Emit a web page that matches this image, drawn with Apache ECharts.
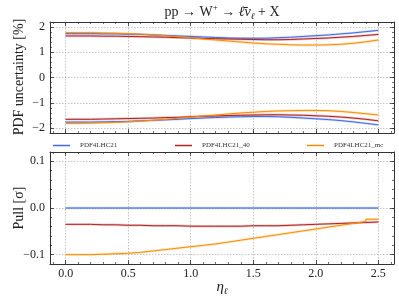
<!DOCTYPE html>
<html><head><meta charset="utf-8">
<script src="https://cdn.jsdelivr.net/npm/echarts@6/dist/echarts.min.js"></script>
<style>html,body{margin:0;padding:0;background:#fff}#c{width:399px;height:299px}</style>
</head><body><div id="c"></div>
<script>
// ---- data ----
const etaEdges = [0.0,0.1,0.2,0.3,0.4,0.5,0.6,0.7,0.8,0.9,1.0,1.1,1.2,1.3,1.4,1.5,1.6,1.7,1.8,1.9,2.0,2.1,2.2,2.3,2.4,2.5];
const seriesNames = ['PDF4LHC21','PDF4LHC21_40','PDF4LHC21_mc'];
// PDF uncertainty [%], upper
const pdf21Up   = [1.73,1.73,1.72,1.72,1.71,1.70,1.68,1.66,1.64,1.62,1.60,1.58,1.56,1.55,1.55,1.55,1.57,1.59,1.62,1.65,1.68,1.72,1.76,1.81,1.86];
const pdf40Up   = [1.64,1.64,1.63,1.63,1.62,1.61,1.60,1.59,1.57,1.56,1.54,1.53,1.52,1.51,1.50,1.49,1.49,1.50,1.52,1.54,1.56,1.59,1.62,1.66,1.70];
const pdfMcUp   = [1.77,1.77,1.76,1.75,1.73,1.71,1.68,1.65,1.61,1.57,1.52,1.48,1.44,1.40,1.36,1.33,1.31,1.29,1.28,1.28,1.29,1.31,1.35,1.41,1.48];
// PDF uncertainty [%], lower
const pdf21Lo   = [-1.76,-1.76,-1.75,-1.74,-1.73,-1.71,-1.69,-1.67,-1.65,-1.62,-1.60,-1.58,-1.56,-1.55,-1.54,-1.54,-1.55,-1.57,-1.60,-1.63,-1.66,-1.70,-1.75,-1.81,-1.87];
const pdf40Lo   = [-1.65,-1.65,-1.64,-1.63,-1.62,-1.61,-1.60,-1.58,-1.57,-1.55,-1.53,-1.52,-1.50,-1.49,-1.48,-1.47,-1.47,-1.48,-1.49,-1.51,-1.53,-1.56,-1.60,-1.65,-1.71];
const pdfMcLo   = [-1.81,-1.80,-1.79,-1.77,-1.75,-1.72,-1.69,-1.65,-1.61,-1.56,-1.52,-1.48,-1.44,-1.40,-1.37,-1.34,-1.32,-1.31,-1.30,-1.30,-1.31,-1.34,-1.38,-1.43,-1.48];
// Pull [sigma]
const pull21    = [0,0,0,0,0,0,0,0,0,0,0,0,0,0,0,0,0,0,0,0,0,0,0,0,0];
const pull40    = [-0.035,-0.035,-0.036,-0.036,-0.037,-0.037,-0.038,-0.038,-0.038,-0.039,-0.039,-0.039,-0.039,-0.039,-0.038,-0.038,-0.038,-0.037,-0.036,-0.035,-0.034,-0.033,-0.032,-0.031,-0.030];
const pullMc    = [-0.100,-0.100,-0.099,-0.098,-0.097,-0.095,-0.092,-0.089,-0.086,-0.083,-0.080,-0.077,-0.073,-0.069,-0.065,-0.061,-0.057,-0.053,-0.049,-0.045,-0.041,-0.037,-0.033,-0.029,-0.024];
// ticks
const xTicks = [0,0.5,1,1.5,2,2.5];
const xTickLabels = ['0.0','0.5','1.0','1.5','2.0','2.5'];
const xMinorTicks = [-0.1,0,0.1,0.2,0.3,0.4,0.5,0.6,0.7,0.8,0.9,1.0,1.1,1.2,1.3,1.4,1.5,1.6,1.7,1.8,1.9,2.0,2.1,2.2,2.3,2.4,2.5,2.6];
const yTopTicks = [-2,-1,0,1,2];
const yTopTickLabels = ['\u22122','\u22121','0','1','2'];
const yTopMinorTicks = [-2.0,-1.8,-1.6,-1.4,-1.2,-1.0,-0.8,-0.6,-0.4,-0.2,0,0.2,0.4,0.6,0.8,1.0,1.2,1.4,1.6,1.8,2.0];
const yPullTicks = [-0.1,0,0.1];
const yPullTickLabels = ['\u22120.1','0.0','0.1'];
const yPullMinorTicks = [-0.1,-0.08,-0.06,-0.04,-0.02,0,0.02,0.04,0.06,0.08,0.1];

// ---- styling ----
const FONT = 'Liberation Serif';
const colors = ['#4169e1','#b22222','#ff8c00'];
const AX = '#333';
const X_MIN = -0.125, X_MAX = 2.625;
const Y_TOP = [-2.19, 2.19];
const Y_PULL = [-0.12, 0.12];

function lookup(ticks, labels) {
  return v => { const i = ticks.findIndex(t => Math.abs(t - v) < 1e-9); return i >= 0 ? labels[i] : ''; };
}
// histogram outline: each bin value held from its lower edge to its upper edge
function steps(vals) {
  const pts = [];
  vals.forEach((v, i) => { pts.push([etaEdges[i], v]); pts.push([etaEdges[i + 1], v]); });
  return pts;
}

const gridBoxes = [
  {left: 50, top: 22, width: 344, height: 111, outerBoundsMode: 'none', containLabel: false},
  {left: 50, top: 152, width: 344, height: 112, outerBoundsMode: 'none', containLabel: false}
];
const grid = [gridBoxes[0], gridBoxes[1], gridBoxes[0], gridBoxes[1]];

const xAxis = [];
const yAxis = [];
const splitStyle = {show: true, lineStyle: {type: [1.5, 1.5], color: '#b8b8b8', width: 0.8}};
function mainX(gi, pos, labels) {
  return {type: 'value', gridIndex: gi, position: pos, min: X_MIN, max: X_MAX,
    axisLine: {show: true, onZero: false, lineStyle: {color: AX, width: 1}},
    axisTick: {show: true, inside: true, length: 4, customValues: xTicks, lineStyle: {color: AX, width: 0.8}},
    axisLabel: {show: labels, customValues: xTicks, formatter: lookup(xTicks, xTickLabels), margin: 4,
      fontFamily: FONT, fontSize: 12, color: '#222'},
    splitLine: pos === 'bottom' ? splitStyle : {show: false}};
}
function minorX(gi, pos) {
  return {type: 'value', gridIndex: gi, position: pos, min: X_MIN, max: X_MAX,
    axisLine: {show: false, onZero: false},
    axisTick: {show: true, inside: true, length: 2, customValues: xMinorTicks, lineStyle: {color: AX, width: 0.7}},
    axisLabel: {show: false}, splitLine: {show: false}};
}
function mainY(gi, pos, rng, ticks, labels) {
  return {type: 'value', gridIndex: gi, position: pos, min: rng[0], max: rng[1],
    axisLine: {show: true, onZero: false, lineStyle: {color: AX, width: 1}},
    axisTick: {show: true, inside: true, length: 4, customValues: ticks, lineStyle: {color: AX, width: 0.8}},
    axisLabel: {show: pos === 'left', customValues: ticks, formatter: lookup(ticks, labels), margin: 5,
      fontFamily: FONT, fontSize: 12, color: '#222'},
    splitLine: pos === 'left' ? splitStyle : {show: false}};
}
function minorY(gi, pos, rng, ticks) {
  return {type: 'value', gridIndex: gi, position: pos, min: rng[0], max: rng[1],
    axisLine: {show: false, onZero: false},
    axisTick: {show: true, inside: true, length: 2, customValues: ticks, lineStyle: {color: AX, width: 0.7}},
    axisLabel: {show: false}, splitLine: {show: false}};
}
xAxis.push(mainX(0, 'bottom', false), mainX(0, 'top', false), mainX(1, 'bottom', true), mainX(1, 'top', false));
xAxis.push(minorX(2, 'bottom'), minorX(2, 'top'), minorX(3, 'bottom'), minorX(3, 'top'));
yAxis.push(mainY(0, 'left', Y_TOP, yTopTicks, yTopTickLabels),
           mainY(0, 'right', Y_TOP, yTopTicks, yTopTickLabels),
           mainY(1, 'left', Y_PULL, yPullTicks, yPullTickLabels),
           mainY(1, 'right', Y_PULL, yPullTicks, yPullTickLabels));
yAxis.push(minorY(2, 'left', Y_TOP, yTopMinorTicks), minorY(2, 'right', Y_TOP, yTopMinorTicks),
           minorY(3, 'left', Y_PULL, yPullMinorTicks), minorY(3, 'right', Y_PULL, yPullMinorTicks));

const series = [];
function addStep(idx, vals, xi, yi) {
  const base = {type: 'line', xAxisIndex: xi, yAxisIndex: yi,
    data: steps(vals), showSymbol: false, symbol: 'none', emphasis: {disabled: true}, animation: false};
  // light uncertainty band under the line
  series.push(Object.assign({}, base, {name: seriesNames[idx] + ' band', z: 2,
    itemStyle: {color: colors[idx]}, lineStyle: {color: colors[idx], width: 2.4, opacity: 0.26}}));
  series.push(Object.assign({}, base, {name: seriesNames[idx], z: 3 + idx,
    itemStyle: {color: colors[idx]}, lineStyle: {color: colors[idx], width: 1.0}}));
}
const ups = [pdf21Up, pdf40Up, pdfMcUp];
const los = [pdf21Lo, pdf40Lo, pdfMcLo];
const pulls = [pull21, pull40, pullMc];
for (let k = 0; k < 3; k++) {
  addStep(k, ups[k], 0, 0);
  addStep(k, los[k], 0, 0);
  addStep(k, pulls[k], 2, 2);
}

const legendBase = {orient: 'horizontal', top: 137, itemWidth: 17, itemHeight: 1.5, icon: 'rect',
  textStyle: {fontFamily: FONT, fontSize: 7, color: '#333', padding: [0, 0, 0, 5]},
  selectedMode: false};
const legend = [
  Object.assign({}, legendBase, {left: 48, data: [seriesNames[0]]}),
  Object.assign({}, legendBase, {left: 170, data: [seriesNames[1]]}),
  Object.assign({}, legendBase, {left: 302, data: [seriesNames[2]]})
];

const txt = '#222';
const graphic = [
  {type: 'text', x: 222, y: 12, style: {
    text: '{n|pp \u2192 W}{sup|+}{n| \u2192 }{i|\u2113\u0304\u03bd}{sub|\u2113}{n| + X}',
    align: 'center', verticalAlign: 'middle', fill: txt,
    rich: {
      n: {fontFamily: FONT, fontSize: 14, lineHeight: 18, fill: txt},
      i: {fontFamily: FONT, fontSize: 14, fontStyle: 'italic', lineHeight: 18, fill: txt},
      sup: {fontFamily: FONT, fontSize: 9, verticalAlign: 'top', lineHeight: 9, fill: txt},
      sub: {fontFamily: FONT, fontSize: 9, fontStyle: 'italic', verticalAlign: 'bottom', lineHeight: 9, fill: txt}
    }}},
  {type: 'text', x: 222, y: 287, style: {
    text: '{i|\u03b7}{sub|\u2113}', align: 'center', verticalAlign: 'middle', fill: txt,
    rich: {
      i: {fontFamily: FONT, fontSize: 15, fontStyle: 'italic', lineHeight: 18, fill: txt},
      sub: {fontFamily: FONT, fontSize: 9, fontStyle: 'italic', verticalAlign: 'bottom', lineHeight: 9, fill: txt}
    }}},
  {type: 'text', x: 19, y: 77, rotation: Math.PI / 2, style: {
    text: 'PDF uncertainty [%]', align: 'center', verticalAlign: 'middle',
    fontFamily: FONT, fontSize: 14, fill: txt}},
  {type: 'text', x: 19, y: 208, rotation: Math.PI / 2, style: {
    text: 'Pull [\u03c3]', align: 'center', verticalAlign: 'middle',
    fontFamily: FONT, fontSize: 14, fill: txt}}
];

const chart = echarts.init(document.getElementById('c'), null, {renderer: 'canvas'});
chart.setOption({
  backgroundColor: '#fff', animation: false,
  grid, xAxis, yAxis, series, legend, graphic
});
</script>
</body></html>
